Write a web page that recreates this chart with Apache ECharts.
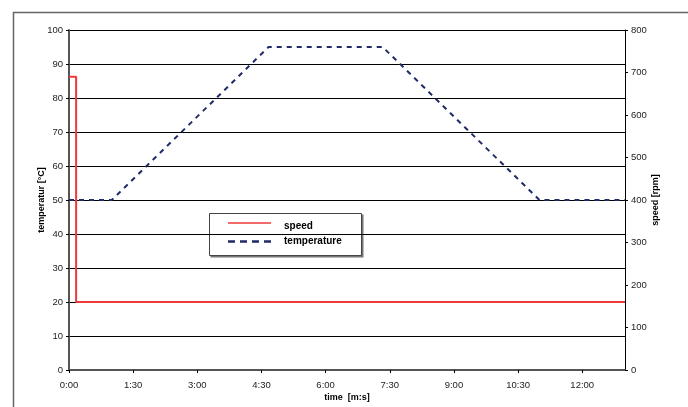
<!DOCTYPE html>
<html>
<head>
<meta charset="utf-8">
<script src="https://cdn.jsdelivr.net/npm/echarts@6/dist/echarts.min.js"></script>
<style>html,body{margin:0;padding:0;background:#fff;overflow:hidden}#c{width:688px;height:407px}</style>
</head>
<body>
<div id="c"></div>
<script>
// time in seconds
var speedTime = [0, 10, 10, 780];
var speedValues = [690, 690, 160, 160];
var tempTime = [0, 60, 280, 440, 660, 780];
var tempValues = [50, 50, 95, 95, 50, 50];
var leftTicks = [0, 10, 20, 30, 40, 50, 60, 70, 80, 90, 100];
var rightTicks = [0, 100, 200, 300, 400, 500, 600, 700, 800];
var timeTickLabels = ['0:00', '1:30', '3:00', '4:30', '6:00', '7:30', '9:00', '10:30', '12:00'];
var seriesNames = ['speed', 'temperature'];

function pairs(xs, ys) { return xs.map(function (x, i) { return [x, ys[i]]; }); }
var FONT = 'Liberation Sans, Arial, sans-serif';
var RED = '#ee3a3a', NAVY = '#1f2a66';

var chart = echarts.init(document.getElementById('c'), null, {renderer: 'canvas'});
chart.setOption({
  animation: false,
  backgroundColor: '#fff',
  textStyle: {fontFamily: FONT},
  grid: {left: 69, width: 556, top: 30, height: 343, containLabel: false},
  graphic: [{
    type: 'rect', left: 11, top: 10, silent: true,
    shape: {x: 0, y: 0, width: 720, height: 440},
    style: {fill: null, stroke: '#666', lineWidth: 1.5}
  }, {
    type: 'group', left: 209, top: 213, silent: true, z: 100,
    children: [
      {type: 'rect', shape: {x: 1.5, y: 1.5, width: 153, height: 43}, style: {fill: '#777'}},
      {type: 'rect', shape: {x: 0.5, y: 0.5, width: 152, height: 42}, style: {fill: '#fff', stroke: '#444', lineWidth: 1}},
      {type: 'line', shape: {x1: 19, y1: 10, x2: 62, y2: 10}, style: {stroke: RED, lineWidth: 1.5}},
      {type: 'text', x: 75, y: 13, style: {text: seriesNames[0], fontFamily: FONT, fontSize: 10, fontWeight: 'bold', fill: '#000', verticalAlign: 'middle'}},
      {type: 'line', shape: {x1: 19, y1: 28.5, x2: 62, y2: 28.5}, style: {stroke: NAVY, lineWidth: 2.5, lineDash: [7, 5]}},
      {type: 'text', x: 75, y: 28.5, style: {text: seriesNames[1], fontFamily: FONT, fontSize: 10, fontWeight: 'bold', fill: '#000', verticalAlign: 'middle'}}
    ]
  }],
  xAxis: {
    type: 'value', min: 0, max: 780, interval: 90,
    name: 'time  [m:s]', nameLocation: 'middle', nameGap: 23, nameMoveOverlap: false,
    nameTextStyle: {fontFamily: FONT, fontSize: 9, fontWeight: 'bold', color: '#000'},
    axisLine: {onZero: false, lineStyle: {color: '#555', width: 2}},
    axisTick: {show: true, length: 3, lineStyle: {color: '#000'}},
    axisLabel: {
      fontFamily: FONT, fontSize: 9.5, color: '#222', margin: 10, showMaxLabel: false,
      formatter: function (v) { return timeTickLabels[Math.round(v / 90)] || ''; }
    },
    splitLine: {show: false}
  },
  yAxis: [{
    type: 'value', position: 'left', min: 0, max: 100, interval: 10,
    name: 'temperatur [°C]', nameLocation: 'middle', nameGap: 23, nameMoveOverlap: false,
    nameTextStyle: {fontFamily: FONT, fontSize: 9, fontWeight: 'bold', color: '#000'},
    axisLine: {show: true, lineStyle: {color: '#555', width: 2}},
    axisTick: {show: true, length: 3, lineStyle: {color: '#000'}},
    axisLabel: {fontFamily: FONT, fontSize: 9.5, color: '#222', margin: 6,
      formatter: function (v) { return leftTicks.indexOf(v) >= 0 ? String(v) : ''; }},
    splitLine: {show: true, lineStyle: {color: '#000', width: 1}}
  }, {
    type: 'value', position: 'right', min: 0, max: 800, interval: 100,
    name: 'speed [rpm]', nameLocation: 'middle', nameGap: 26, nameRotate: 90, nameMoveOverlap: false,
    nameTextStyle: {fontFamily: FONT, fontSize: 9, fontWeight: 'bold', color: '#000'},
    axisLine: {show: true, lineStyle: {color: '#000', width: 1}},
    axisTick: {show: true, length: 3, lineStyle: {color: '#000'}},
    axisLabel: {fontFamily: FONT, fontSize: 9.5, color: '#222', margin: 6,
      formatter: function (v) { return rightTicks.indexOf(v) >= 0 ? String(v) : ''; }},
    splitLine: {show: false}
  }],
  series: [{
    name: seriesNames[0], type: 'line', yAxisIndex: 1,
    data: pairs(speedTime, speedValues),
    showSymbol: false, symbol: 'none',
    lineStyle: {color: RED, width: 2},
    itemStyle: {color: RED}
  }, {
    name: seriesNames[1], type: 'line', yAxisIndex: 0,
    data: pairs(tempTime, tempValues),
    showSymbol: false, symbol: 'none',
    lineStyle: {color: NAVY, width: 2, type: [5, 5]},
    itemStyle: {color: NAVY}
  }]
});
</script>
</body>
</html>
